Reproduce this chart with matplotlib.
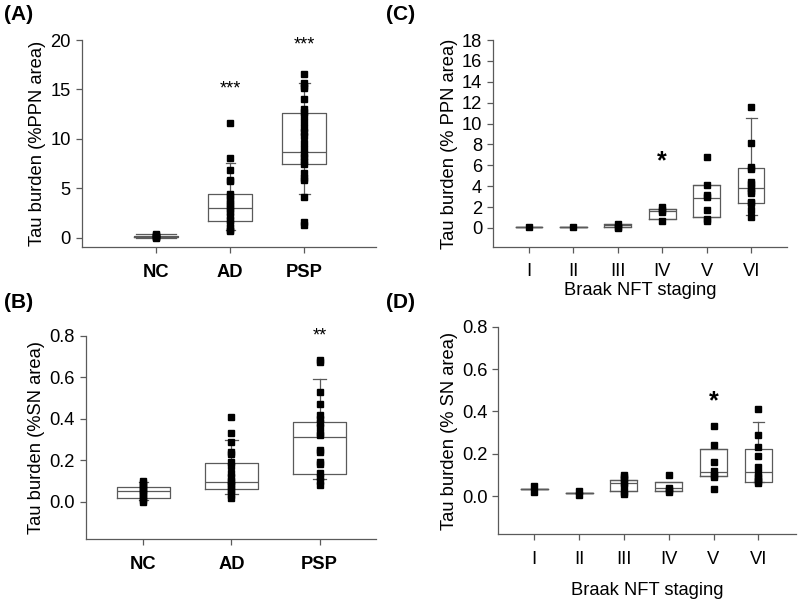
import matplotlib
matplotlib.use("Agg")
import matplotlib.pyplot as plt
import numpy as np

plt.rcParams['font.family'] = ['Liberation Sans', 'DejaVu Sans']

# ---------------- Data ----------------
groups_dx = ["NC", "AD", "PSP"]
braak = ["I", "II", "III", "IV", "V", "VI"]

# Panel A: tau burden %PPN area by diagnosis
A_pts = [
    [0.35, 0.25, 0.15, 0.1, 0.05, 0.0],
    [11.6, 8.1, 6.8, 5.8, 5.7, 4.4, 4.2, 3.8, 3.5, 3.2, 2.9, 2.6, 2.2, 1.8, 1.5, 1.0, 0.8, 0.7],
    [16.6, 15.6, 15.3, 15.1, 14.0, 13.0, 12.7, 12.3, 11.7, 11.1, 10.7, 10.3, 9.6, 9.0, 8.5, 8.2,
     7.8, 7.5, 6.5, 6.0, 5.8, 4.1, 1.6, 1.3],
]
A_q1 = [0.02, 1.7, 7.5]
A_med = [0.1, 2.95, 8.7]
A_q3 = [0.2, 4.4, 12.65]
A_lo = [0.0, 0.8, 4.4]
A_hi = [0.35, 7.55, 15.65]
A_sig = ["", "***", "***"]
A_sig_y = [0, 15.0, 19.5]

# Panel B: tau burden %SN area by diagnosis
B_pts = [
    [0.1, 0.09, 0.08, 0.07, 0.06, 0.05, 0.04, 0.03, 0.02, 0.01, 0.0],
    [0.41, 0.33, 0.29, 0.24, 0.23, 0.19, 0.17, 0.14, 0.12, 0.10, 0.09, 0.08, 0.06, 0.05, 0.03, 0.02],
    [0.685, 0.675, 0.53, 0.47, 0.42, 0.40, 0.38, 0.36, 0.33, 0.32, 0.25, 0.24, 0.19, 0.18, 0.14,
     0.12, 0.10, 0.08],
]
B_q1 = [0.017, 0.062, 0.134]
B_med = [0.052, 0.096, 0.311]
B_q3 = [0.072, 0.188, 0.387]
B_lo = [0.008, 0.036, 0.11]
B_hi = [0.095, 0.30, 0.59]
B_sig = ["", "", "**"]
B_sig_y = [0, 0, 0.80]

# Panel C: tau burden %PPN area by Braak stage
C_pts = [
    [0.05],
    [0.1],
    [0.35, 0.1, 0.0],
    [2.0, 1.7, 1.5, 0.7],
    [6.8, 4.1, 3.2, 3.0, 1.7, 0.9, 0.7],
    [11.6, 8.1, 5.8, 5.6, 4.4, 4.2, 3.8, 3.5, 3.3, 2.5, 2.4, 1.7, 1.0],
]
C_q1 = [0.05, 0.1, 0.1, 0.9, 1.0, 2.43]
C_med = [0.05, 0.1, 0.25, 1.6, 2.9, 3.85]
C_q3 = [0.05, 0.1, 0.4, 1.86, 4.07, 5.75]
C_lo = [0.05, 0.1, 0.1, 0.9, 1.0, 1.28]
C_hi = [0.05, 0.1, 0.4, 1.86, 4.07, 10.55]
C_sig = ["", "", "", "*", "", ""]
C_sig_y = [0, 0, 0, 6.4, 0, 0]

# Panel D: tau burden %SN area by Braak stage
D_pts = [
    [0.05, 0.02],
    [0.025, 0.005],
    [0.1, 0.09, 0.08, 0.06, 0.05, 0.02, 0.01],
    [0.1, 0.04, 0.03, 0.02],
    [0.33, 0.24, 0.16, 0.12, 0.10, 0.09, 0.035],
    [0.41, 0.29, 0.23, 0.19, 0.14, 0.11, 0.09, 0.08, 0.07, 0.06],
]
D_q1 = [0.034, 0.015, 0.024, 0.024, 0.094, 0.065]
D_med = [0.034, 0.015, 0.063, 0.039, 0.116, 0.112]
D_q3 = [0.034, 0.015, 0.076, 0.068, 0.221, 0.224]
D_lo = [0.034, 0.015, 0.024, 0.024, 0.094, 0.065]
D_hi = [0.034, 0.015, 0.076, 0.068, 0.221, 0.348]
D_sig = ["", "", "", "", "*", ""]
D_sig_y = [0, 0, 0, 0, 0.45, 0]

LINE = "#5a5a5a"
FS = 13.2

fig = plt.figure(figsize=(8, 6), dpi=100)


def panel(rect, labels, pts, q1, med, q3, lo, hi, sig, sig_y, ylim, yticks, ytl,
          xlim, ylabel, capw, bold_x, xlabel=None, xlabelpad=4, sig_fs=13, sig_bold=False):
    ax = fig.add_axes(rect)
    pos = np.arange(1, len(labels) + 1)
    stats = []
    for i in range(len(labels)):
        stats.append(dict(q1=q1[i], med=med[i], q3=q3[i], whislo=lo[i], whishi=hi[i],
                          fliers=[]))
    ax.bxp(stats, positions=pos, widths=0.6, capwidths=capw, showfliers=False,
           boxprops=dict(color=LINE, lw=0.9), medianprops=dict(color=LINE, lw=0.9),
           whiskerprops=dict(color=LINE, lw=0.9), capprops=dict(color=LINE, lw=0.9))
    for i, p in enumerate(pts):
        ax.plot([pos[i]] * len(p), p, 's', color='black', ms=4.4, zorder=5, clip_on=False)
    for i, s in enumerate(sig):
        if s:
            ax.text(pos[i], sig_y[i], s, ha='center', va='center', fontsize=sig_fs,
                    fontweight='bold' if sig_bold else 'normal', clip_on=False)
    ax.set_xlim(*xlim)
    ax.set_ylim(*ylim)
    ax.set_yticks(yticks)
    ax.set_yticklabels(ytl, fontsize=FS)
    ax.set_xticks(pos)
    ax.set_xticklabels(labels, fontsize=FS, fontweight='bold' if bold_x else 'normal')
    for sp in ['top', 'right']:
        ax.spines[sp].set_visible(False)
    for sp in ['left', 'bottom']:
        ax.spines[sp].set_color(LINE)
        ax.spines[sp].set_linewidth(0.9)
    ax.spines['left'].set_bounds(ylim[0], yticks[-1])
    ax.tick_params(axis='both', direction='out', length=4, width=0.9, color=LINE, pad=4)
    ax.tick_params(axis='x', pad=8)
    ax.set_ylabel(ylabel, fontsize=FS, labelpad=3)
    if xlabel:
        ax.set_xlabel(xlabel, fontsize=FS, labelpad=xlabelpad)
    ax.patch.set_visible(False)
    return ax


axA = panel([0.1025, 0.5883, 0.3675, 0.345], groups_dx, A_pts, A_q1, A_med, A_q3, A_lo, A_hi,
            A_sig, A_sig_y, (-0.95, 20), [0, 5, 10, 15, 20], ["0", "5", "10", "15", "20"],
            (0.0, 3.97), "Tau burden (%PPN area)", [0.55, 0.12, 0.15], True)
axB = panel([0.1075, 0.1017, 0.3625, 0.3383], groups_dx, B_pts, B_q1, B_med, B_q3, B_lo, B_hi,
            B_sig, B_sig_y, (-0.18, 0.8), [0, 0.2, 0.4, 0.6, 0.8],
            ["0.0", "0.2", "0.4", "0.6", "0.8"],
            (0.35, 3.64), "Tau burden (%SN area)", [0.1, 0.14, 0.14], True)
axC = panel([0.6167, 0.5888, 0.3667, 0.3445], braak, C_pts, C_q1, C_med, C_q3, C_lo, C_hi,
            C_sig, C_sig_y, (-1.8, 18), list(range(0, 19, 2)), [str(v) for v in range(0, 19, 2)],
            (0.2, 6.8), "Tau burden (% PPN area)", [0.6, 0.6, 0.6, 0.6, 0.6, 0.25], False,
            xlabel="Braak NFT staging", xlabelpad=1, sig_fs=18, sig_bold=True)
axD = panel([0.623, 0.1095, 0.372, 0.3460], braak, D_pts, D_q1, D_med, D_q3, D_lo, D_hi,
            D_sig, D_sig_y, (-0.18, 0.8), [0, 0.2, 0.4, 0.6, 0.8],
            ["0.0", "0.2", "0.4", "0.6", "0.8"],
            (0.2, 6.84), "Tau burden (% SN area)", [0.6, 0.6, 0.6, 0.6, 0.6, 0.25], False,
            xlabel="Braak NFT staging", xlabelpad=10, sig_fs=18, sig_bold=True)

for lab, x, y in [("(A)", 0.005, 0.975), ("(B)", 0.005, 0.495), ("(C)", 0.483, 0.975),
                  ("(D)", 0.483, 0.495)]:
    fig.text(x, y, lab, fontsize=15, fontweight='bold', ha='left', va='center')

fig.savefig("out.png", dpi=100)
